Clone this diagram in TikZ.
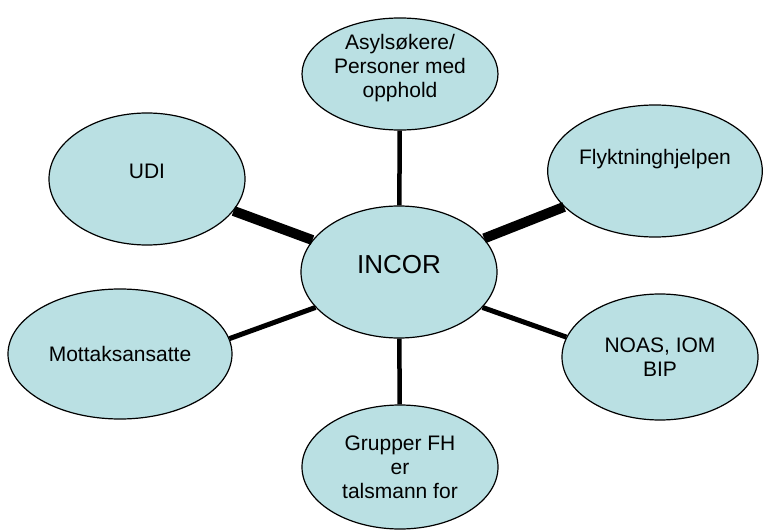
\documentclass[tikz,border=0pt]{standalone}
\usepackage{fontspec}
\setmainfont{Liberation Sans}
\usepackage{tikz}
\usetikzlibrary{shapes}
\definecolor{bubbleblue}{RGB}{186,224,227}
\tikzstyle{bubble}=[ellipse,draw,line width=1.2pt,fill=bubbleblue,inner sep=0pt,align=center,font=\fontsize{21}{24}\selectfont]
\tikzstyle{heavy}=[line width=10pt]
\tikzstyle{medium}=[line width=5pt]

\begin{document}
\begin{tikzpicture}[x=1pt,y=-1pt]
\useasboundingbox (0,0) rectangle (763,532);
    \node [bubble,minimum width=196pt,minimum height=132pt,font=\fontsize{26}{30}\selectfont] (incor) at (399,272) {\raisebox{16pt}{INCOR}};
    \node [bubble,minimum width=196pt,minimum height=112pt] (asyl) at (400,74) {Asylsøkere/\\Personer med\\opphold\\[-8pt]};
    \node [bubble,minimum width=196pt,minimum height=132pt] (udi) at (147,179) {\raisebox{16pt}{UDI}};
    \node [bubble,minimum width=214pt,minimum height=132pt] (flykt) at (655,171) {\raisebox{28pt}{Flyktninghjelpen}};
    \node [bubble,minimum width=224pt,minimum height=130pt] (mottak) at (120,354) {\raisebox{-12pt}{Mottaksansatte}};
    \node [bubble,minimum width=196pt,minimum height=126pt] (noas) at (660,357) {NOAS, IOM\\BIP};
    \node [bubble,minimum width=196pt,minimum height=124pt] (grupper) at (400,467) {Grupper FH\\er\\talsmann for};
    % links to the centre
    \draw [medium,line width=4.5pt] (asyl) -- (incor);
    \draw [medium,line width=4.5pt] (incor) -- (grupper);
    \draw [heavy] (udi) -- (incor);
    \draw [heavy] (flykt) -- (incor);
    \draw [medium] (mottak.8) -- (incor.203);
    \draw [medium] (noas.168) -- (incor.-23);
\end{tikzpicture}
\end{document}
